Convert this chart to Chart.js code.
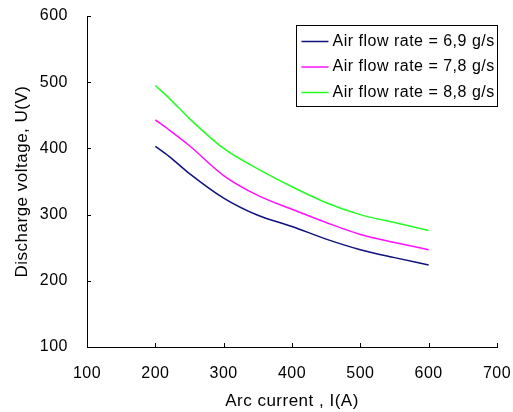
<!DOCTYPE html>
<html><head><meta charset="utf-8">
<script src="https://cdn.jsdelivr.net/npm/chart.js@4"></script>
<style>html,body{margin:0;padding:0;background:#fff}#c{display:block}</style>
</head><body>
<canvas id="c" width="513" height="412"></canvas>
<script>
const current = [200, 220, 250, 300, 350, 400, 450, 500, 550, 600];
const flow69 = [403, 388, 362, 325, 299, 282, 263, 247, 235, 224];
const flow78 = [443, 428, 404, 359, 329, 308, 288, 270, 258, 247];
const flow88 = [495, 476, 445, 400, 369, 342, 318, 300, 288, 276];
const seriesLabels = ['Air flow rate = 6,9 g/s', 'Air flow rate = 7,8 g/s', 'Air flow rate = 8,8 g/s'];
const xTicks = [100, 200, 300, 400, 500, 600, 700];
const yTicks = [100, 200, 300, 400, 500, 600];

const FONT = '"Liberation Sans", Arial, sans-serif';
const colors = ['#10107e', '#ff10ff', '#22ff22'];
const toPts = arr => current.map((x, i) => ({x, y: arr[i]}));

const spacing = {
  id: 'spacing',
  beforeLayout(chart) { chart.ctx.letterSpacing = '0.5px'; },
  beforeDraw(chart) { chart.ctx.letterSpacing = '0.5px'; }
};

const innerTicks = {
  id: 'innerTicks',
  afterDraw(chart) {
    const ctx = chart.ctx, xs = chart.scales.x, ys = chart.scales.y, a = chart.chartArea;
    ctx.save();
    ctx.strokeStyle = '#000'; ctx.lineWidth = 1;
    ctx.beginPath();
    xTicks.forEach(v => { const p = Math.round(xs.getPixelForValue(v)) + 0.5; ctx.moveTo(p, a.bottom); ctx.lineTo(p, a.bottom - 4); });
    yTicks.forEach(v => { const p = Math.round(ys.getPixelForValue(v)) + 0.5; ctx.moveTo(a.left, p); ctx.lineTo(a.left + 4, p); });
    ctx.stroke();
    // legend box
    const bx = 296.5, by = 25.5, bw = 201, bh = 81;
    ctx.fillStyle = '#fff'; ctx.fillRect(bx, by, bw, bh);
    ctx.strokeStyle = '#000'; ctx.lineWidth = 1;
    ctx.strokeRect(bx, by, bw, bh);
    ctx.font = '16px ' + FONT; ctx.textBaseline = 'middle'; ctx.fillStyle = '#000';
    ctx.letterSpacing = '0.5px';
    chart.data.datasets.forEach((ds, i) => {
      const cy = by + 16 + i * 25.5;
      ctx.strokeStyle = ds.borderColor; ctx.lineWidth = 1.5;
      ctx.beginPath(); ctx.moveTo(bx + 5, cy); ctx.lineTo(bx + 32, cy); ctx.stroke();
      ctx.fillText(ds.label, bx + 36, cy);
    });
    ctx.restore();
  }
};

new Chart(document.getElementById('c'), {
  type: 'line',
  data: {
    datasets: [flow69, flow78, flow88].map((d, i) => ({
      label: seriesLabels[i], data: toPts(d), borderColor: colors[i], borderWidth: 1.5,
      pointRadius: 0, cubicInterpolationMode: 'monotone', fill: false
    }))
  },
  options: {
    responsive: false, animation: false, events: [],
    layout: {padding: {top: 16, right: 16, left: 0, bottom: 0}},
    plugins: {legend: {display: false}, tooltip: {enabled: false}},
    scales: {
      x: {
        type: 'linear', min: 100, max: 700,
        afterBuildTicks: s => { s.ticks = xTicks.map(v => ({value: v})); },
        afterFit: s => { s.height = 65; s.paddingLeft = 0; s.paddingRight = 0; },
        grid: {display: false, drawTicks: false},
        border: {display: true, color: '#000', width: 1},
        ticks: {color: '#000', padding: 17, font: {family: FONT, size: 16}},
        title: {display: true, text: 'Arc current , I(A)', color: '#000', font: {family: FONT, size: 17}, padding: {top: 2, bottom: 0}}
      },
      y: {
        min: 100, max: 600,
        afterBuildTicks: s => { s.ticks = yTicks.map(v => ({value: v})); },
        afterFit: s => { s.width = 87; s.paddingTop = 0; s.paddingBottom = 0; },
        grid: {display: false, drawTicks: false},
        border: {display: true, color: '#000', width: 1},
        ticks: {color: '#000', padding: 19, font: {family: FONT, size: 16}},
        title: {display: true, text: 'Discharge voltage, U(V)', color: '#000', font: {family: FONT, size: 17}, padding: {top: 12, bottom: 0}}
      }
    }
  },
  plugins: [spacing, innerTicks]
});
</script>
</body></html>
